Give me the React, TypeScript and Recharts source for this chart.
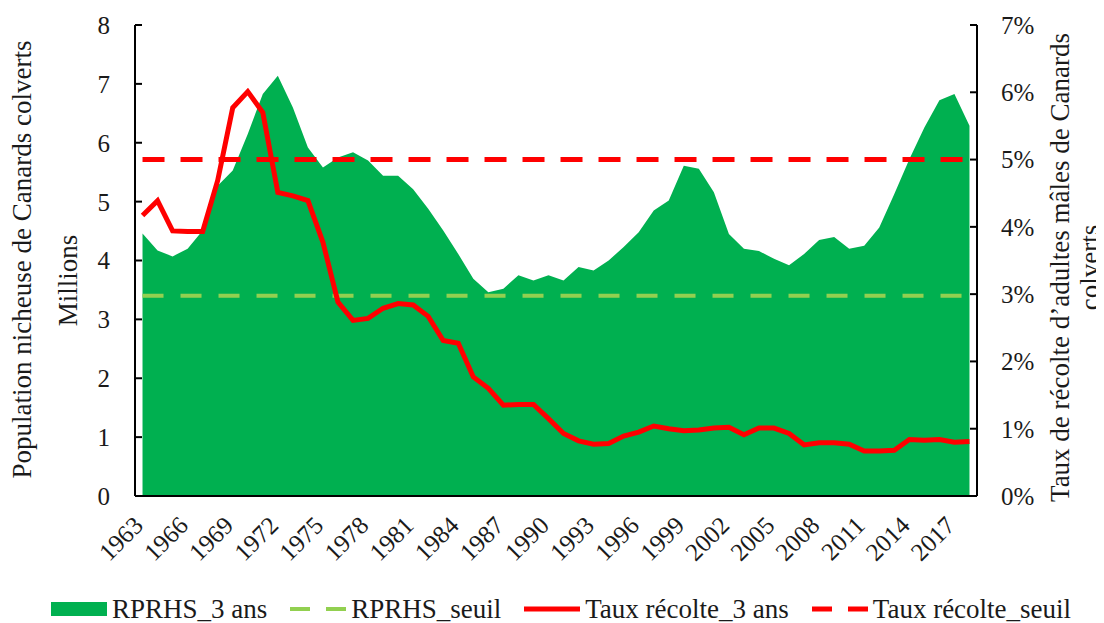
import React from 'react';
import { ComposedChart, Area, Line, XAxis, YAxis, ReferenceLine, Legend, Label } from 'recharts';

const years = [
  1963, 1964, 1965, 1966, 1967, 1968, 1969, 1970, 1971, 1972,
  1973, 1974, 1975, 1976, 1977, 1978, 1979, 1980, 1981, 1982,
  1983, 1984, 1985, 1986, 1987, 1988, 1989, 1990, 1991, 1992,
  1993, 1994, 1995, 1996, 1997, 1998, 1999, 2000, 2001, 2002,
  2003, 2004, 2005, 2006, 2007, 2008, 2009, 2010, 2011, 2012,
  2013, 2014, 2015, 2016, 2017, 2018,
];

// Population nicheuse (millions), moyenne 3 ans
const rprhs3ans = [
  4.46, 4.17, 4.07, 4.2, 4.51, 5.27, 5.53, 6.15, 6.83, 7.14,
  6.6, 5.92, 5.58, 5.75, 5.84, 5.7, 5.44, 5.44, 5.21, 4.88,
  4.51, 4.11, 3.69, 3.46, 3.52, 3.75, 3.66, 3.75, 3.66, 3.89,
  3.83, 4.0, 4.23, 4.48, 4.85, 5.02, 5.61, 5.56, 5.16, 4.45,
  4.2, 4.16, 4.03, 3.92, 4.11, 4.35, 4.4, 4.2, 4.25, 4.56,
  5.13, 5.72, 6.26, 6.72, 6.83, 6.29,
];

// Taux de récolte (%), moyenne 3 ans
const tauxRecolte3ans = [
  4.17, 4.39, 3.94, 3.93, 3.93, 4.69, 5.77, 6.01, 5.7, 4.51,
  4.46, 4.39, 3.77, 2.88, 2.61, 2.64, 2.79, 2.86, 2.84, 2.67,
  2.31, 2.27, 1.77, 1.6, 1.35, 1.36, 1.36, 1.15, 0.93, 0.82,
  0.77, 0.78, 0.89, 0.95, 1.04, 1.0, 0.97, 0.98, 1.01, 1.02,
  0.91, 1.01, 1.01, 0.93, 0.76, 0.79, 0.79, 0.77, 0.67, 0.67,
  0.68, 0.84, 0.83, 0.84, 0.8, 0.81,
];

const rprhsSeuil = 3.4;
const tauxRecolteSeuil = 5;

const xTicks = [1963, 1966, 1969, 1972, 1975, 1978, 1981, 1984, 1987, 1990, 1993, 1996, 1999, 2002, 2005, 2008, 2011, 2014, 2017];
const leftTicks = [0, 1, 2, 3, 4, 5, 6, 7, 8];
const rightTicks = [0, 1, 2, 3, 4, 5, 6, 7];

const legendLabels = ['RPRHS_3 ans', 'RPRHS_seuil', 'Taux récolte_3 ans', 'Taux récolte_seuil'];

const data = years.map((year, i) => ({ year, rprhs: rprhs3ans[i], taux: tauxRecolte3ans[i] }));

const FONT = '"Liberation Serif", "Times New Roman", serif';
const INK = '#1a1a1a';
const GREEN = '#00B050';
const LIGHT_GREEN = '#92D050';
const RED = '#FF0000';

function XTick(props: any) {
  const { x, y, payload } = props;
  const px = x + 2;
  const py = y + 31;
  return (
    <text x={px} y={py} transform={`rotate(-45 ${px} ${py})`} textAnchor="end" fontSize={25} fontFamily={FONT} fill={INK}>
      {payload.value}
    </text>
  );
}

function LeftTitle(props: any) {
  const vb = props.viewBox || { x: 0, y: 17, width: 127, height: 471 };
  const cy = vb.y + vb.height / 2;
  const x1 = vb.x + 23;
  const y1 = cy - 1;
  const x2 = vb.x + 69;
  const y2 = cy + 20;
  return (
    <g>
      <text x={x1} y={y1} transform={`rotate(-90 ${x1} ${y1})`} textAnchor="middle" fontSize={27} fontFamily={FONT} fill={INK}>
        Population nicheuse de Canards colverts
      </text>
      <text x={x2} y={y2} transform={`rotate(-90 ${x2} ${y2})`} textAnchor="middle" fontSize={27} fontFamily={FONT} fill={INK}>
        Millions
      </text>
    </g>
  );
}

function RightTitle(props: any) {
  const vb = props.viewBox || { x: 969, y: 17, width: 127, height: 471 };
  const cy = vb.y + vb.height / 2 + 7;
  const x1 = vb.x + 92;
  const x2 = vb.x + 122;
  return (
    <g>
      <text x={x1} y={cy} transform={`rotate(-90 ${x1} ${cy})`} textAnchor="middle" fontSize={27} fontFamily={FONT} fill={INK}>
        Taux de récolte d’adultes mâles de Canards
      </text>
      <text x={x2} y={cy} transform={`rotate(-90 ${x2} ${cy})`} textAnchor="middle" fontSize={27} fontFamily={FONT} fill={INK}>
        colverts
      </text>
    </g>
  );
}

function Swatch({ kind }: { kind: number }) {
  return (
    <svg width={56} height={16} style={{ marginRight: 5, flex: 'none' }}>
      {kind === 0 && <rect x={0} y={1} width={56} height={14} fill={GREEN} />}
      {kind === 1 && <line x1={0} y1={8} x2={56} y2={8} stroke={LIGHT_GREEN} strokeWidth={4} strokeDasharray="20 16" />}
      {kind === 2 && <line x1={0} y1={8} x2={56} y2={8} stroke={RED} strokeWidth={5} />}
      {kind === 3 && <line x1={0} y1={8} x2={56} y2={8} stroke={RED} strokeWidth={5} strokeDasharray="20 16" />}
    </svg>
  );
}

function LegendContent() {
  return (
    <div
      style={{
        display: 'flex',
        justifyContent: 'center',
        alignItems: 'center',
        paddingLeft: 10,
        fontFamily: FONT,
        fontSize: 27,
        color: INK,
        lineHeight: '30px',
        whiteSpace: 'nowrap',
      }}
    >
      {legendLabels.map((label, i) => (
        <div key={label} style={{ display: 'flex', alignItems: 'center', marginLeft: i ? 23 : 0 }}>
          <Swatch kind={i} />
          <span>{label}</span>
        </div>
      ))}
    </div>
  );
}

export default function App() {
  return (
    <div style={{ width: 1096, height: 615 }}>
      <style>{'html,body{overflow:hidden}'}</style>
      <ComposedChart
        width={1096}
        height={615}
        data={data}
        margin={{ top: 17, right: 0, bottom: 27, left: 0 }}
        style={{ fontFamily: FONT }}
      >
        <XAxis
          dataKey="year"
          type="number"
          domain={[1962.5, 2018.5]}
          ticks={xTicks}
          interval={0}
          height={100}
          tickLine={false}
          tickSize={0}
          tickMargin={0}
          axisLine={{ stroke: '#000', strokeWidth: 2 }}
          tick={<XTick />}
          allowDataOverflow
        />
        <YAxis
          yAxisId="left"
          orientation="left"
          width={127}
          domain={[0, 8]}
          ticks={leftTicks}
          interval={0}
          tickSize={-7}
          tickMargin={32}
          tickLine={{ stroke: '#000', strokeWidth: 2 }}
          axisLine={{ stroke: '#000', strokeWidth: 2 }}
          tick={{ fontSize: 25, fill: INK, fontFamily: FONT }}
        >
          <Label content={<LeftTitle />} />
        </YAxis>
        <YAxis
          yAxisId="right"
          orientation="right"
          width={127}
          domain={[0, 7]}
          ticks={rightTicks}
          interval={0}
          tickSize={-7}
          tickMargin={31}
          tickLine={{ stroke: '#000', strokeWidth: 2 }}
          axisLine={{ stroke: '#000', strokeWidth: 2 }}
          tick={{ fontSize: 25, fill: INK, fontFamily: FONT }}
          tickFormatter={(v: number) => `${v}%`}
        >
          <Label content={<RightTitle />} />
        </YAxis>
        <Area
          yAxisId="left"
          dataKey="rprhs"
          type="linear"
          fill={GREEN}
          fillOpacity={1}
          stroke="none"
          isAnimationActive={false}
          dot={false}
          activeDot={false}
        />
        <ReferenceLine
          yAxisId="left"
          segment={[
            { x: years[0], y: rprhsSeuil },
            { x: years[years.length - 1], y: rprhsSeuil },
          ]}
          stroke={LIGHT_GREEN}
          strokeWidth={4}
          strokeDasharray="21 17"
        />
        <ReferenceLine
          yAxisId="right"
          segment={[
            { x: years[0], y: tauxRecolteSeuil },
            { x: years[years.length - 1], y: tauxRecolteSeuil },
          ]}
          stroke={RED}
          strokeWidth={5}
          strokeDasharray="22 16"
        />
        <Line
          yAxisId="right"
          dataKey="taux"
          type="linear"
          stroke={RED}
          strokeWidth={5}
          dot={false}
          activeDot={false}
          isAnimationActive={false}
        />
        <Legend
          verticalAlign="middle"
          align="center"
          layout="horizontal"
          content={<LegendContent />}
          wrapperStyle={{ top: 586, left: 0, width: 1096, height: 30 }}
        />
      </ComposedChart>
    </div>
  );
}
